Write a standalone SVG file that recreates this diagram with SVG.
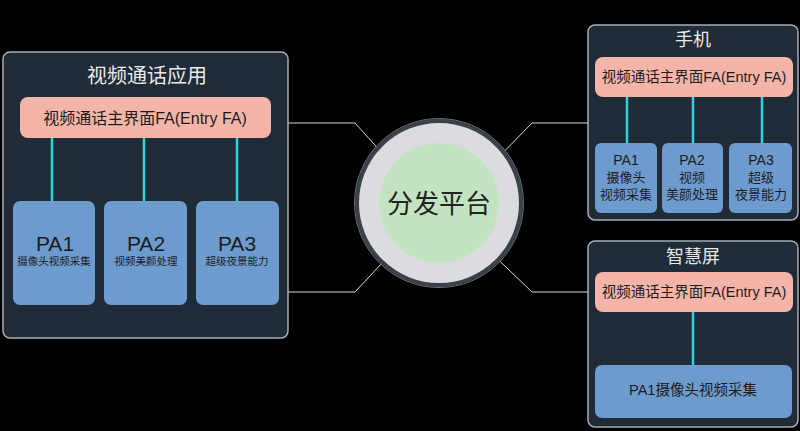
<svg xmlns="http://www.w3.org/2000/svg" width="800" height="431" viewBox="0 0 800 431">
<style>
.panel{fill:#1f2b36;stroke:#a7aeb5;stroke-width:1.5}
.fa{fill:#f4b4a8}
.pa{fill:#6e9bcd}
.link{stroke:#2ed3e3;stroke-width:2.5}
.conn{fill:none;stroke:#d8d8d8;stroke-width:1}
.t{font-family:"Liberation Sans","Noto Sans CJK SC",sans-serif;text-anchor:middle;dominant-baseline:central}
.title{fill:#e8e8e8}
.dark{fill:#1c1c1c}
</style>
<rect width="800" height="431" fill="#000"/>
<g id="connectors">
<polyline class="conn" points="288,123 355,123 393,165"/>
<polyline class="conn" points="288,292 355,292 397,247"/>
<polyline class="conn" points="488,168 532,123 590,123"/>
<polyline class="conn" points="483,245 532,292 590,292"/>
</g>
<g id="app">
<rect class="panel" x="3" y="52" width="285" height="286" rx="7"/>
<text class="t title" x="147" y="76" font-size="20">视频通话应用</text>
<line class="link" x1="52" y1="138" x2="52" y2="201"/>
<line class="link" x1="144" y1="138" x2="144" y2="201"/>
<line class="link" x1="237" y1="138" x2="237" y2="201"/>
<g id="app-fa"><rect class="fa" x="20" y="97" width="251" height="41" rx="8"/>
<text class="t dark" x="145" y="118" font-size="16">视频通话主界面FA(Entry FA)</text></g>
<g id="app-pa1"><rect class="pa" x="13" y="201" width="82" height="104" rx="7"/>
<text class="t dark" x="55" y="243" font-size="21">PA1</text>
<text class="t dark" x="54" y="261" font-size="10.5">摄像头视频采集</text></g>
<g id="app-pa2"><rect class="pa" x="104" y="201" width="83" height="104" rx="7"/>
<text class="t dark" x="146" y="243" font-size="21">PA2</text>
<text class="t dark" x="146" y="261" font-size="10.5">视频美颜处理</text></g>
<g id="app-pa3"><rect class="pa" x="196" y="201" width="83" height="104" rx="7"/>
<text class="t dark" x="237" y="243" font-size="21">PA3</text>
<text class="t dark" x="237" y="261" font-size="10.5">超级夜景能力</text></g>
</g>
<g id="platform">
<circle cx="439" cy="203" r="82" fill="#dcdce0" stroke="#3a4148" stroke-width="4"/>
<circle cx="439" cy="203" r="84.5" fill="none" stroke="#6a6f75" stroke-width="1"/>
<circle cx="439" cy="203" r="60" fill="#c3e4c0"/>
<text class="t" x="439" y="204" font-size="26" fill="#222">分发平台</text>
</g>
<g id="phone">
<rect class="panel" x="588" y="25" width="210" height="195" rx="7"/>
<text class="t title" x="693" y="40" font-size="18">手机</text>
<line class="link" x1="627" y1="97" x2="627" y2="143"/>
<line class="link" x1="693" y1="97" x2="693" y2="143"/>
<line class="link" x1="762" y1="97" x2="762" y2="143"/>
<g id="phone-fa"><rect class="fa" x="595" y="57" width="198" height="40" rx="8"/>
<text class="t dark" x="694" y="77" font-size="14.5">视频通话主界面FA(Entry FA)</text></g>
<g id="phone-pa1"><rect class="pa" x="595" y="143" width="62" height="70" rx="6"/>
<text class="t dark" x="626" y="160" font-size="14">PA1</text>
<text class="t dark" x="626" y="177" font-size="13">摄像头</text>
<text class="t dark" x="626" y="194" font-size="13">视频采集</text></g>
<g id="phone-pa2"><rect class="pa" x="662" y="143" width="61" height="70" rx="6"/>
<text class="t dark" x="692" y="160" font-size="14">PA2</text>
<text class="t dark" x="692" y="177" font-size="13">视频</text>
<text class="t dark" x="692" y="194" font-size="13">美颜处理</text></g>
<g id="phone-pa3"><rect class="pa" x="729" y="143" width="63" height="70" rx="6"/>
<text class="t dark" x="761" y="160" font-size="14">PA3</text>
<text class="t dark" x="761" y="177" font-size="13">超级</text>
<text class="t dark" x="761" y="194" font-size="13">夜景能力</text></g>
</g>
<g id="screen">
<rect class="panel" x="588" y="241" width="210" height="186" rx="7"/>
<text class="t title" x="693" y="257" font-size="18">智慧屏</text>
<line class="link" x1="693" y1="312" x2="693" y2="365"/>
<g id="screen-fa"><rect class="fa" x="595" y="272" width="198" height="40" rx="8"/>
<text class="t dark" x="694" y="292" font-size="14.5">视频通话主界面FA(Entry FA)</text></g>
<g id="screen-pa1"><rect class="pa" x="595" y="365" width="197" height="53" rx="7"/>
<text class="t dark" x="693" y="390" font-size="14.5">PA1摄像头视频采集</text></g>
</g>
</svg>
